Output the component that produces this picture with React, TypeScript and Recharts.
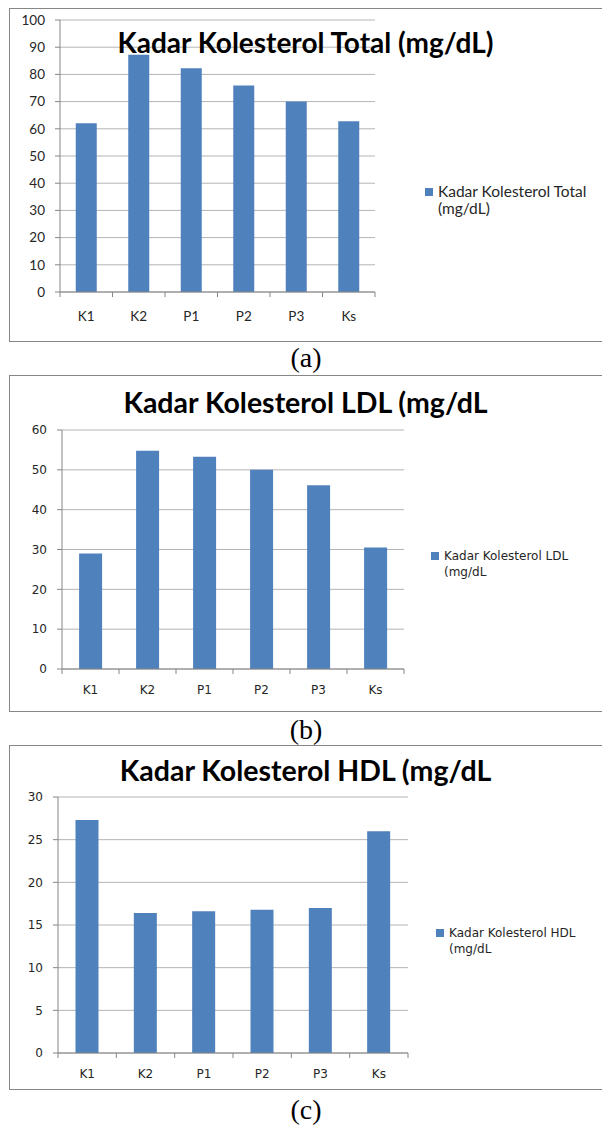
import React from "react";
import { BarChart, Bar, XAxis, YAxis, CartesianGrid, Legend } from "recharts";

const groups = ["K1", "K2", "P1", "P2", "P3", "Ks"];
const totalValues = [62, 87.2, 82.3, 75.9, 70, 62.8];
const ldlValues = [29, 54.8, 53.3, 50, 46.1, 30.5];
const hdlValues = [27.3, 16.4, 16.6, 16.8, 17, 26];

const totalTicks = [0, 10, 20, 30, 40, 50, 60, 70, 80, 90, 100];
const ldlTicks = [0, 10, 20, 30, 40, 50, 60];
const hdlTicks = [0, 5, 10, 15, 20, 25, 30];

const BAR = "#4F81BD";
const AXIS = "#868686";
const GRID = "#b4b4b4";
const TEXT = "#262626";
const LATO = "Lato, 'Open Sans', sans-serif";
const DEJAVU = "'DejaVu Sans', Verdana, sans-serif";

const CategoryTick = (props: any) => {
  const { x, y, payload, index, visibleTicksCount, fontSize, fontFamily, labelOffset } = props;
  const half = payload.offset ?? 26;
  return (
    <g>
      <line x1={x - half} x2={x - half} y1={y} y2={y + 5} stroke={AXIS} />
      {index === visibleTicksCount - 1 && (
        <line x1={x + half} x2={x + half} y1={y} y2={y + 5} stroke={AXIS} />
      )}
      <text
        x={x}
        y={y + labelOffset}
        textAnchor="middle"
        dominantBaseline="central"
        fontSize={fontSize}
        fontFamily={fontFamily}
        fill={TEXT}
      >
        {payload.value}
      </text>
    </g>
  );
};

const legendContent = (fontSize: number, fontFamily: string, lineHeight: number) => (props: any) => (
  <div>
    {(props.payload || []).map((entry: any) => (
      <div
        key={entry.value}
        style={{
          display: "flex",
          alignItems: "flex-start",
          fontFamily,
          fontSize,
          lineHeight: `${lineHeight}px`,
          color: TEXT,
        }}
      >
        <span
          style={{
            width: 8,
            height: 8,
            background: BAR,
            marginTop: (lineHeight - 8) / 2,
            marginRight: 5,
            flex: "none",
          }}
        />
        <span style={{ whiteSpace: "pre" }}>
          {String(entry.value).replace(" (", "\n(")}
        </span>
      </div>
    ))}
  </div>
);

interface PanelProps {
  title: string;
  values: number[];
  ticks: number[];
  top: number;
  height: number;
  margin: { top: number; right: number; bottom: number; left: number };
  yWidth: number;
  legendLeft: number;
  legendTop: number;
  legendWidth: number;
  legendLine: number;
  titleY: number;
  titleSize: number;
  tickSize: number;
  tickFont: string;
  labelOffset: number;
  legendSize: number;
  caption: string;
  captionY: number;
}

const Panel = (p: PanelProps) => {
  const data = groups.map((g, i) => ({ group: g, value: p.values[i] }));
  const max = p.ticks[p.ticks.length - 1];
  return (
    <>
      <div
        style={{
          position: "absolute",
          left: 9,
          top: p.top,
          width: 593,
          height: p.height,
          boxSizing: "border-box",
          border: `1px solid ${AXIS}`,
          borderRight: "none",
        }}
      />
      <div style={{ position: "absolute", left: 0, top: p.top }}>
        <BarChart
          width={602}
          height={p.height}
          data={data}
          margin={p.margin}
          barCategoryGap="30%"
        >
          <CartesianGrid vertical={false} stroke={GRID} />
          <XAxis
            dataKey="group"
            interval={0}
            height={30}
            tickSize={0}
            tickMargin={0}
            tickLine={false}
            stroke={AXIS}
            tick={
              <CategoryTick
                fontSize={p.tickSize}
                fontFamily={p.tickFont}
                labelOffset={p.labelOffset}
              />
            }
          />
          <YAxis
            width={p.yWidth}
            domain={[0, max]}
            ticks={p.ticks}
            interval={0}
            tickSize={5}
            tickMargin={10}
            stroke={AXIS}
            tick={{ fontSize: p.tickSize, fill: TEXT, fontFamily: p.tickFont }}
          />
          <Legend
            layout="vertical"
            align="right"
            verticalAlign="middle"
            content={legendContent(p.legendSize, p.tickFont, p.legendLine)}
            wrapperStyle={{ left: p.legendLeft, top: p.legendTop, width: p.legendWidth }}
          />
          <Bar dataKey="value" name={p.title} fill={BAR} isAnimationActive={false} />
        </BarChart>
      </div>
      <div
        style={{
          position: "absolute",
          left: 9,
          width: 593,
          top: p.top + p.titleY - 18,
          height: 36,
          lineHeight: "36px",
          textAlign: "center",
          fontFamily: LATO,
          fontWeight: 700,
          fontSize: p.titleSize,
          color: "#000",
          whiteSpace: "nowrap",
        }}
      >
        {p.title}
      </div>
      <div
        style={{
          position: "absolute",
          left: 0,
          width: 612,
          top: p.captionY - 17,
          height: 34,
          lineHeight: "34px",
          textAlign: "center",
          fontFamily: "'Liberation Serif', serif",
          fontSize: 28,
          color: "#000",
        }}
      >
        {p.caption}
      </div>
    </>
  );
};

export default function App() {
  return (
    <div style={{ position: "absolute", left: 0, top: 0, width: 602, height: 1128, background: "#fff" }}>
      <Panel
        title="Kadar Kolesterol Total (mg/dL)"
        values={totalValues}
        ticks={totalTicks}
        top={8}
        height={334}
        margin={{ top: 12, right: 57, bottom: 20, left: 0 }}
        yWidth={60}
        legendLeft={425}
        legendTop={175}
        legendWidth={170}
        legendLine={17}
        titleY={34}
        titleSize={28}
        tickSize={13.5}
        tickFont={LATO}
        labelOffset={24}
        legendSize={15.5}
        caption="(a)"
        captionY={358}
      />
      <Panel
        title="Kadar Kolesterol LDL (mg/dL"
        values={ldlValues}
        ticks={ldlTicks}
        top={375}
        height={337}
        margin={{ top: 55, right: 38, bottom: 13, left: 0 }}
        yWidth={62}
        legendLeft={431}
        legendTop={173}
        legendWidth={160}
        legendLine={16}
        titleY={27}
        titleSize={28.5}
        tickSize={12}
        tickFont={DEJAVU}
        labelOffset={21}
        legendSize={12}
        caption="(b)"
        captionY={730}
      />
      <Panel
        title="Kadar Kolesterol HDL (mg/dL"
        values={hdlValues}
        ticks={hdlTicks}
        top={745}
        height={345}
        margin={{ top: 52, right: 36, bottom: 7, left: 0 }}
        yWidth={58}
        legendLeft={436}
        legendTop={180}
        legendWidth={158}
        legendLine={16}
        titleY={25}
        titleSize={28.5}
        tickSize={12}
        tickFont={DEJAVU}
        labelOffset={21}
        legendSize={12}
        caption="(c)"
        captionY={1110}
      />
    </div>
  );
}
